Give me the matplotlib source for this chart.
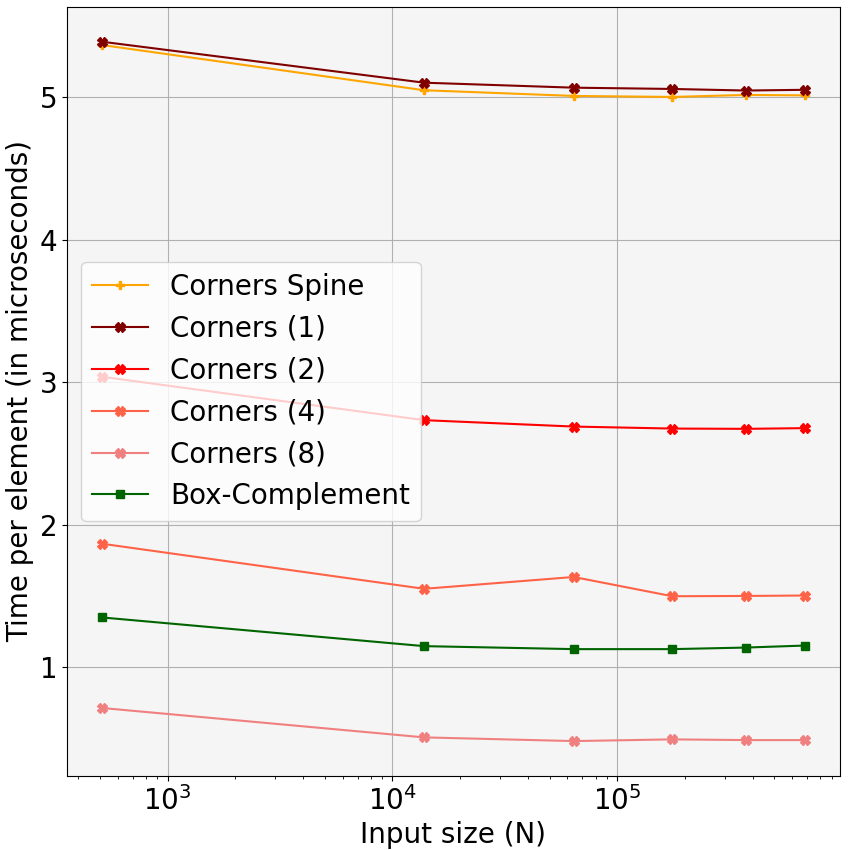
from matplotlib import pyplot as plt

# input sizes (k^3 grids)
sizes = [512, 13824, 64000, 175616, 373248, 681472]

spine = [5.364, 5.047, 5.007, 5.000, 5.014, 5.011]
corners_1 = [5.387, 5.100, 5.065, 5.056, 5.045, 5.050]
corners_2 = [3.037, 2.733, 2.688, 2.674, 2.672, 2.677]
corners_4 = [1.866, 1.550, 1.633, 1.498, 1.500, 1.503]
corners_8 = [0.714, 0.508, 0.482, 0.494, 0.489, 0.489]
box_complement = [1.349, 1.148, 1.127, 1.127, 1.138, 1.152]

plt.rcParams['font.size'] = 20

fig, ax = plt.subplots(figsize=(8.5, 8.5), dpi=100)
ax.set_facecolor('whitesmoke')

ax.plot(sizes, spine, color='orange', marker='P', markersize=6, label='Corners Spine')
ax.plot(sizes, corners_1, color='maroon', marker='X', markersize=7, label='Corners (1)')
ax.plot(sizes, corners_2, color='red', marker='X', markersize=7, label='Corners (2)')
ax.plot(sizes, corners_4, color='tomato', marker='X', markersize=7, label='Corners (4)')
ax.plot(sizes, corners_8, color='lightcoral', marker='X', markersize=7, label='Corners (8)')
ax.plot(sizes, box_complement, color='darkgreen', marker='s', markersize=6, label='Box-Complement')

ax.set_xscale('log')
ax.set_xlabel('Input size (N)', fontsize=20)
ax.set_ylabel('Time per element (in microseconds)', fontsize=20)
ax.tick_params(labelsize=20)
ax.grid(True)
ax.legend(loc='center left', fontsize=20)

plt.subplots_adjust(left=0.079, right=0.988, top=0.992, bottom=0.087)
plt.savefig('out.png', dpi=100)
